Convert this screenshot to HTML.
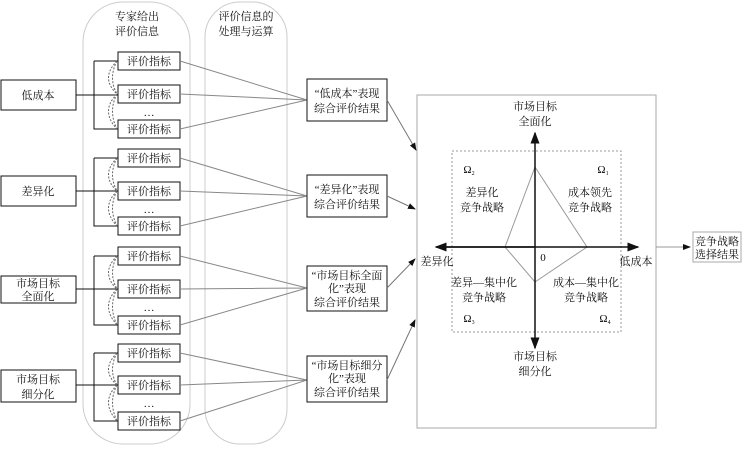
<!DOCTYPE html><html><head><meta charset="utf-8"><style>body{margin:0;background:#fff}svg text{font-family:"Liberation Serif","Noto Serif CJK SC",serif;font-size:11px;fill:#111}</style></head><body>
<svg width="744" height="446" viewBox="0 0 744 446" xmlns="http://www.w3.org/2000/svg">
<defs><marker id="a" markerWidth="8" markerHeight="8" refX="7" refY="3" orient="auto"><path d="M0,0L8,3L0,6z" fill="#111"/></marker></defs>
<rect x="83" y="2" width="107" height="442" rx="40" fill="none" stroke="#ccc"/>
<rect x="205" y="2" width="82" height="442" rx="35" fill="none" stroke="#ccc"/>
<g text-anchor="middle"><text x="137" y="20">专家给出</text><text x="137" y="35">评价信息</text><text x="246" y="20">评价信息的</text><text x="246" y="35">处理与运算</text></g>
<g fill="none" stroke="#111">
<rect x="1" y="80" width="75" height="30"/><rect x="1" y="176" width="75" height="30"/><rect x="1" y="276" width="75" height="27"/><rect x="1" y="370" width="75" height="32"/>
</g>
<g text-anchor="middle"><text x="38" y="99">低成本</text><text x="38" y="195">差异化</text><text x="38" y="287">市场目标</text><text x="38" y="300">全面化</text><text x="38" y="383">市场目标</text><text x="38" y="398">细分化</text></g>
<g id="groups" fill="none" stroke="#111" stroke-width="1"></g>
<!-- group boxes -->
<g fill="none" stroke="#111">
<rect x="118" y="52" width="62" height="18"/><rect x="118" y="85" width="62" height="18"/><rect x="118" y="120" width="62" height="18"/>
<rect x="118" y="149" width="62" height="18"/><rect x="118" y="182" width="62" height="18"/><rect x="118" y="217" width="62" height="18"/>
<rect x="118" y="247" width="62" height="18"/><rect x="118" y="280" width="62" height="18"/><rect x="118" y="316" width="62" height="18"/>
<rect x="118" y="344" width="62" height="18"/><rect x="118" y="376" width="62" height="18"/><rect x="118" y="412" width="62" height="18"/>
<path d="M76,95H118M94,61V129H118M94,61H118"/><path d="M76,191H118M94,158V226H118M94,158H118"/><path d="M76,289H118M94,256V325H118M94,256H118"/><path d="M76,385H118M94,353V421H118M94,353H118"/>
</g>
<g fill="none" stroke="#666" stroke-dasharray="2,1.5">
<path d="M117,61Q100,78 117,94M117,61Q108,78 117,94M117,94Q100,111 117,129M117,94Q108,111 117,129"/>
<path d="M117,158Q100,175 117,191M117,158Q108,175 117,191M117,191Q100,208 117,226M117,191Q108,208 117,226"/>
<path d="M117,256Q100,273 117,289M117,256Q108,273 117,289M117,289Q100,306 117,325M117,289Q108,306 117,325"/>
<path d="M117,353Q100,370 117,385M117,353Q108,370 117,385M117,385Q100,402 117,421M117,385Q108,402 117,421"/>
</g>
<g text-anchor="middle">
<text x="149" y="65">评价指标</text><text x="149" y="98">评价指标</text><text x="149" y="116">…</text><text x="149" y="133">评价指标</text>
<text x="149" y="162">评价指标</text><text x="149" y="195">评价指标</text><text x="149" y="213">…</text><text x="149" y="230">评价指标</text>
<text x="149" y="260">评价指标</text><text x="149" y="293">评价指标</text><text x="149" y="311">…</text><text x="149" y="329">评价指标</text>
<text x="149" y="357">评价指标</text><text x="149" y="389">评价指标</text><text x="149" y="407">…</text><text x="149" y="425">评价指标</text>
</g>
<g stroke="#888" fill="none">
<path d="M180,61L307,100M180,94L307,100M180,129L307,100"/>
<path d="M180,158L307,196M180,191L307,196M180,226L307,196"/>
<path d="M180,256L307,288M180,289L307,288M180,325L307,288"/>
<path d="M180,353L307,380M180,385L307,380M180,421L307,380"/>
</g>
<g fill="#fff" stroke="#111"><rect x="307" y="79" width="80" height="42"/><rect x="307" y="175" width="80" height="42"/><rect x="307" y="266" width="80" height="45"/><rect x="307" y="356" width="80" height="46"/></g>
<g text-anchor="middle">
<text x="347" y="97">“低成本”表现</text><text x="347" y="112">综合评价结果</text>
<text x="347" y="193">“差异化”表现</text><text x="347" y="208">综合评价结果</text>
<text x="347" y="279">“市场目标全面</text><text x="347" y="292">化”表现</text><text x="347" y="306">综合评价结果</text>
<text x="347" y="369">“市场目标细分</text><text x="347" y="382">化”表现</text><text x="347" y="396">综合评价结果</text>
</g>
<g stroke="#777" marker-end="url(#a)"><path d="M387,100L416,150"/><path d="M387,196L415,209"/><path d="M387,288L415,259"/><path d="M387,380L415,320"/></g>
<rect x="417" y="95" width="239" height="333" fill="none" stroke="#aaa"/>
<rect x="452" y="151" width="169" height="181" fill="none" stroke="#999" stroke-dasharray="2,2"/>
<path d="M535,167L587,247L535,282L505,247Z" fill="none" stroke="#999"/>
<g stroke="#111" stroke-width="1.5"><path d="M437,247H638" marker-end="url(#a)"/><path d="M535,247H436" marker-end="url(#a)"/><path d="M535,247V133" marker-end="url(#a)"/><path d="M535,247V348" marker-end="url(#a)"/></g>
<g text-anchor="middle">
<text x="535" y="110">市场目标</text><text x="535" y="125">全面化</text>
<text x="535" y="360">市场目标</text><text x="535" y="375">细分化</text>
<text x="437" y="265">差异化</text><text x="636" y="265">低成本</text><text x="543" y="261" font-size="9">0</text>
<text x="482" y="196">差异化</text><text x="482" y="211">竞争战略</text>
<text x="590" y="196">成本领先</text><text x="590" y="211">竞争战略</text>
<text x="484" y="286">差异—集中化</text><text x="484" y="301">竞争战略</text>
<text x="586" y="286">成本—集中化</text><text x="586" y="301">竞争战略</text>
<text x="469" y="173">Ω<tspan font-size="6" dy="2">2</tspan></text><text x="603" y="173">Ω<tspan font-size="6" dy="2">1</tspan></text>
<text x="469" y="322">Ω<tspan font-size="6" dy="2">3</tspan></text><text x="605" y="322">Ω<tspan font-size="6" dy="2">4</tspan></text>
</g>
<path d="M656,247H690" stroke="#999" marker-end="url(#a)"/>
<rect x="693" y="232" width="48" height="30" fill="none" stroke="#aaa"/>
<text x="717" y="245" text-anchor="middle">竞争战略</text><text x="717" y="258" text-anchor="middle">选择结果</text>
</svg></body></html>
